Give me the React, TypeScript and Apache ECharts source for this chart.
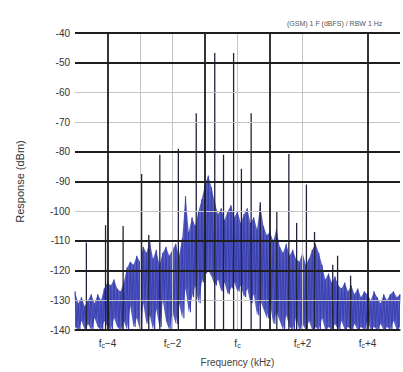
import React, { useEffect, useRef } from 'react';
import * as echarts from 'echarts';

const noiseHi = [
  -127, -131, -129, -132, -130, -128, -131, -128, -130, -126,
  -124, -125, -123, -126, -127, -124, -119, -117, -118, -115,
  -117, -112, -114, -110, -116, -113, -118, -114, -112, -115,
  -113, -111, -115, -109, -95, -107, -102, -105, -100, -96,
  -91, -88, -92, -97, -101, -99, -103, -100, -98, -102,
  -100, -104, -101, -99, -104, -102, -106, -98, -105, -108,
  -107, -110, -106, -112, -114, -111, -115, -113, -116, -117,
  -114, -118, -116, -113, -111, -114, -118, -123, -121, -124,
  -122, -125, -126, -124, -127, -125, -128, -126, -129, -127,
  -128, -130, -127, -129, -131, -128, -130, -128, -127, -129,
  -128,
];
const noiseLo = [
  -139, -140, -137, -140, -138, -140, -136, -139, -140, -137,
  -139, -140, -136, -139, -140, -137, -140, -132, -139, -136,
  -140, -131, -138, -135, -140, -133, -139, -130, -137, -140,
  -134, -138, -131, -136, -126, -134, -129, -125, -131, -124,
  -121, -120, -122, -125, -123, -127, -124, -128, -126, -124,
  -127, -125, -129, -126, -131, -128, -135, -130, -133, -136,
  -131, -138, -134, -137, -140, -135, -139, -140, -136, -140,
  -138, -140, -137, -140, -139, -140, -136, -140, -139, -140,
  -138, -140, -137, -140, -139, -140, -138, -140, -139, -140,
  -137, -140, -139, -140, -138, -140, -139, -140, -137, -140,
  -139,
];
const noiseStart = -5;
const noiseStep = 0.1;

// Discrete tones (offset from fc in kHz, level in dBm)
const toneFreq = [-4.65, -4.06, -3.52, -2.95, -2.73, -2.39, -1.82, -1.27, -0.7, -0.43, -0.12, 0.12, 0.42, 0.7, 1.21, 1.58, 1.82, 2.12, 2.37, 2.93, 3.08, 3.48];
const toneLevel = [-110.5, -104.7, -105, -87.5, -108, -81, -79, -67, -46.7, -81, -46.7, -85.7, -67, -97, -100, -80.7, -104, -91, -107, -118, -115, -121.7];

const xLabels: Record<string, string> = {
  '-4': '{f|f}{s|c}−4',
  '-2': '{f|f}{s|c}−2',
  '0': '{f|f}{s|c}',
  '2': '{f|f}{s|c}+2',
  '4': '{f|f}{s|c}+4',
};
const darkFreqLines = [-4, -1, 1, 4];
const lightFreqLines = [-3, -2, 2];
const darkLevelLines = [-40, -50, -80, -90, -110, -120, -140];
const lightLevelLines = [-60, -70, -100, -130];

const FONT = 'Liberation Sans, Arial, sans-serif';
const BLUE = '#3a41b3';

const freqAt = (i: number) => +(noiseStart + i * noiseStep).toFixed(3);

export default function App() {
  const ref = useRef<HTMLDivElement>(null);
  useEffect(() => {
    const chart = echarts.init(ref.current!, null, { renderer: 'svg' });
    const noiseData: any[] = [];
    noiseHi.forEach((h, i) => {
      const f = freqAt(i);
      noiseData.push([f, h]);
      if (i < noiseLo.length - 1) noiseData.push([+(f + noiseStep / 2).toFixed(3), noiseLo[i]]);
    });
    const toneData: any[] = [];
    toneFreq.forEach((f, i) => {
      toneData.push([f, -140]);
      toneData.push([f, toneLevel[i]]);
      toneData.push([f, '-']);
    });
    const dark = { color: '#1e1e1e', width: 1.8, type: 'solid' };
    const light = { color: '#c4c4c4', width: 1, type: 'solid' };
    const gridLines = [
      ...lightFreqLines.map((v) => ({ xAxis: v, lineStyle: light })),
      ...lightLevelLines.map((v) => ({ yAxis: v, lineStyle: light })),
      ...darkFreqLines.map((v) => ({ xAxis: v, lineStyle: dark })),
      ...darkLevelLines.map((v) => ({ yAxis: v, lineStyle: dark })),
    ];
    chart.setOption({
      animation: false,
      backgroundColor: '#ffffff',
      textStyle: { fontFamily: FONT },
      title: {
        text: '(GSM) 1 F (dBFS) / RBW 1 Hz',
        left: 282,
        top: 15,
        textStyle: { fontSize: 7, color: '#555', fontWeight: 'normal', fontFamily: FONT },
      },
      grid: { left: 75, top: 33, right: -2, bottom: 39 },
      xAxis: {
        type: 'value',
        min: -5,
        max: 5,
        interval: 1,
        axisLine: { show: true, lineStyle: { color: '#222', width: 1.5 } },
        axisTick: { show: false },
        splitLine: { show: false },
        axisLabel: {
          margin: 7,
          color: '#333',
          fontSize: 10,
          formatter: (v: number) => xLabels[String(v)] || '',
          rich: {
            f: { fontSize: 10, color: '#333', fontFamily: FONT },
            s: { fontSize: 7, color: '#333', fontFamily: FONT, padding: [5, 0, 0, 0] },
          },
        },
        name: 'Frequency (kHz)',
        nameLocation: 'middle',
        nameGap: 27,
        nameTextStyle: { fontSize: 10, color: '#444', fontFamily: FONT },
      },
      yAxis: {
        type: 'value',
        min: -140,
        max: -40,
        interval: 10,
        axisLine: { show: true, lineStyle: { color: '#c4c4c4', width: 1 } },
        axisTick: { show: false },
        splitLine: { show: false },
        axisLabel: { margin: 5, color: '#333', fontSize: 10, fontFamily: FONT },
        name: 'Response (dBm)',
        nameLocation: 'middle',
        nameGap: 50,
        nameTextStyle: { fontSize: 11, color: '#333', fontFamily: FONT },
      },
      series: [
        {
          type: 'custom',
          coordinateSystem: 'cartesian2d',
          data: [[0, -140]],
          z: 1,
          silent: true,
          renderItem: (_params: any, api: any) => {
            const pts: number[][] = [];
            noiseHi.forEach((h, i) => pts.push(api.coord([freqAt(i), h])));
            for (let i = noiseLo.length - 1; i >= 0; i--) {
              pts.push(api.coord([freqAt(i), noiseLo[i]]));
            }
            return {
              type: 'polygon',
              shape: { points: pts },
              style: { fill: BLUE, opacity: 0.85 },
            };
          },
        },
        {
          type: 'line',
          data: noiseData,
          symbol: 'none',
          lineStyle: { color: BLUE, width: 1.1 },
          z: 2,
        },
        {
          type: 'line',
          data: toneData,
          symbol: 'none',
          connectNulls: false,
          lineStyle: { color: '#22223a', width: 1.3 },
          z: 3,
          markLine: {
            silent: true,
            symbol: ['none', 'none'],
            label: { show: false },
            lineStyle: { type: 'solid' },
            data: gridLines,
          },
        },
      ],
    });
    return () => chart.dispose();
  }, []);
  return (
    <div
      ref={ref}
      style={{ position: 'fixed', left: 0, top: 0, width: 403, height: 372, background: '#fff' }}
    />
  );
}
